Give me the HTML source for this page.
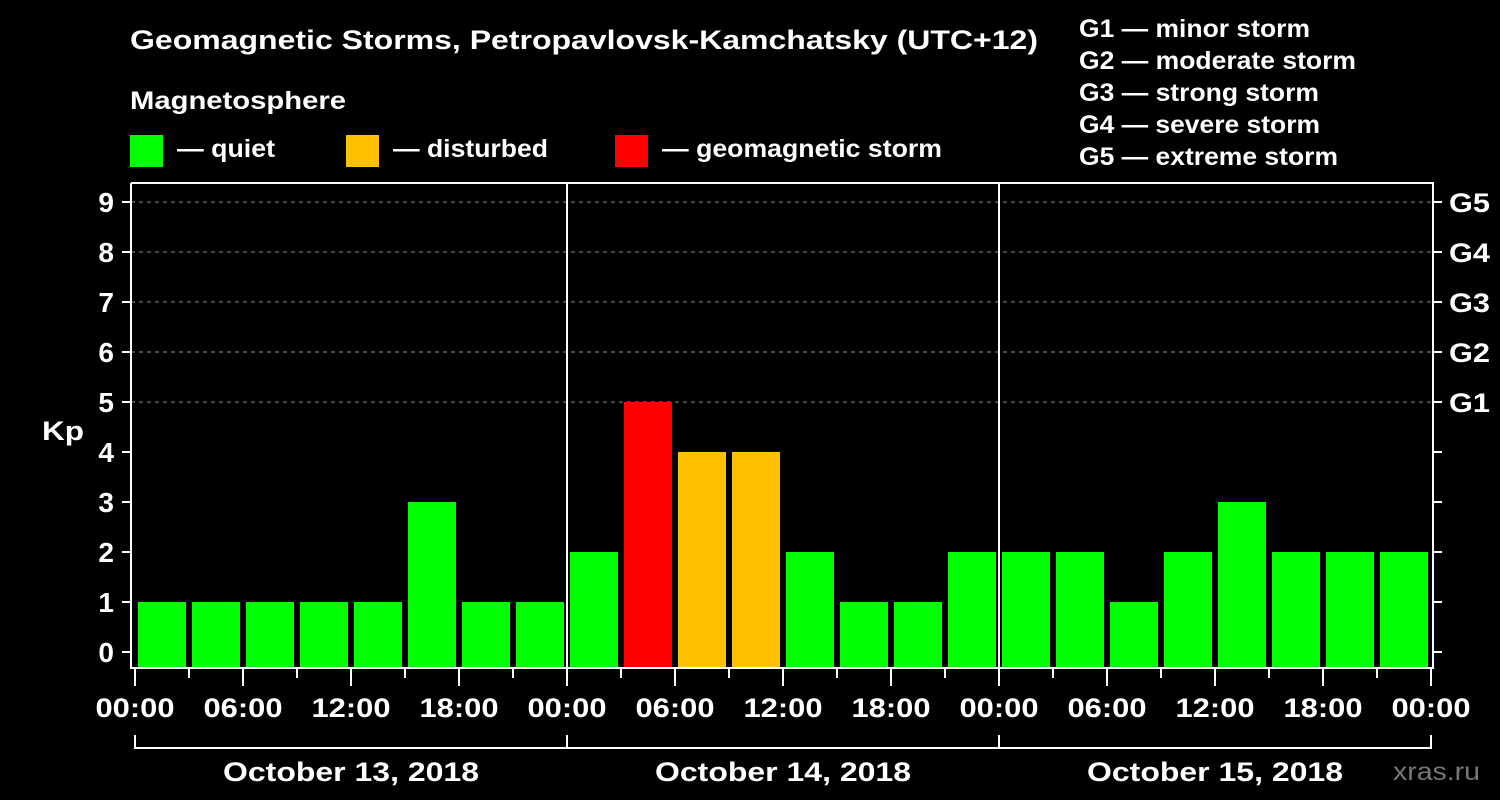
<!DOCTYPE html>
<html><head><meta charset="utf-8"><style>
body{margin:0;background:#000;}
svg{display:block;font-family:"Liberation Sans",sans-serif;font-weight:bold;}
</style></head><body>
<svg id="c" width="1500" height="800">
<rect width="1500" height="800" fill="#000"/>
<text x="130" y="49" fill="#fff" font-size="27" textLength="908" lengthAdjust="spacingAndGlyphs">Geomagnetic Storms, Petropavlovsk-Kamchatsky (UTC+12)</text>
<text x="130" y="109" fill="#fff" font-size="25" textLength="216" lengthAdjust="spacingAndGlyphs">Magnetosphere</text>
<g><rect x="130" y="135" width="33" height="32" fill="#00ff00"/><text x="177" y="157" fill="#fff" font-size="25" textLength="98" lengthAdjust="spacingAndGlyphs">— quiet</text></g>
<g><rect x="346" y="135" width="33" height="32" fill="#ffc000"/><text x="393" y="157" fill="#fff" font-size="25" textLength="155" lengthAdjust="spacingAndGlyphs">— disturbed</text></g>
<g><rect x="615" y="135" width="33" height="32" fill="#ff0000"/><text x="662" y="157" fill="#fff" font-size="25" textLength="280" lengthAdjust="spacingAndGlyphs">— geomagnetic storm</text></g>
<g fill="#fff" font-size="25">
<text x="1079" y="37" textLength="231" lengthAdjust="spacingAndGlyphs">G1 — minor storm</text>
<text x="1079" y="69" textLength="277" lengthAdjust="spacingAndGlyphs">G2 — moderate storm</text>
<text x="1079" y="101" textLength="240" lengthAdjust="spacingAndGlyphs">G3 — strong storm</text>
<text x="1079" y="133" textLength="241" lengthAdjust="spacingAndGlyphs">G4 — severe storm</text>
<text x="1079" y="165" textLength="259" lengthAdjust="spacingAndGlyphs">G5 — extreme storm</text>
</g>
<text x="42" y="440" fill="#fff" font-size="27" textLength="42" lengthAdjust="spacingAndGlyphs">Kp</text>
<text x="1393" y="780" fill="#777" font-size="25" font-weight="normal" textLength="87" lengthAdjust="spacingAndGlyphs">xras.ru</text>
<g id="grid"></g><g id="bars"></g><g id="axes"></g>
</svg>
<script>
const kpValues=[1,1,1,1,1,3,1,1, 2,5,4,4,2,1,1,2, 2,2,1,2,3,2,2,2];
const dayLabels=["October 13, 2018","October 14, 2018","October 15, 2018"];
const hourLabels=["00:00","06:00","12:00","18:00"];
const yTicks=[0,1,2,3,4,5,6,7,8,9];
const gLabels=["G1","G2","G3","G4","G5"];
const NS="http://www.w3.org/2000/svg";
const X0=135,SLOT=54,Y0=652,UNIT=50,BOTTOM=668,TOP=183,LEFT=131,RIGHT=1433;
const xs=i=>X0+SLOT*i; const ys=v=>Y0-UNIT*v;
function mk(t,a,p){const e=document.createElementNS(NS,t);for(const k in a)e.setAttribute(k,a[k]);p.appendChild(e);return e;}
const grid=document.getElementById('grid'),bars=document.getElementById('bars'),axes=document.getElementById('axes');
yTicks.forEach(v=>{
 if(v>=5){const l=mk('line',{x1:LEFT,x2:RIGHT,y1:ys(v),y2:ys(v),stroke:'#888','stroke-dasharray':'4,4','stroke-width':1},grid);
 }
 const t=mk('line',{x1:122,x2:LEFT,y1:ys(v),y2:ys(v),stroke:'#fff','stroke-width':2},axes);
 
 const r=mk('line',{x1:RIGHT,x2:1442,y1:ys(v),y2:ys(v),stroke:'#fff','stroke-width':2},axes);
 
 const tx=mk('text',{x:114,y:ys(v)+10,fill:'#fff','font-size':28,'text-anchor':'end'},axes);tx.textContent=v;
 
});
gLabels.forEach((g,i)=>{const tx=mk('text',{x:1449,y:ys(5+i)+10,fill:'#fff','font-size':27,textLength:41,lengthAdjust:'spacingAndGlyphs'},axes);tx.textContent=g;
 });
kpValues.forEach((v,i)=>{
 const c=v>=5?'#ff0000':(v>=4?'#ffc000':'#00ff00');
 const b=mk('rect',{x:xs(i)+3,y:ys(v),width:48,height:BOTTOM-ys(v),fill:c},bars);
 
});
const frame=mk('path',{d:`M${LEFT} ${TOP}V${BOTTOM}H${RIGHT}V${TOP}H${LEFT}`,stroke:'#fff','stroke-width':2,fill:'none'},axes);

for(let d=1;d<3;d++){const l=mk('line',{x1:xs(8*d),x2:xs(8*d),y1:TOP,y2:BOTTOM,stroke:'#fff','stroke-width':2},axes);
 }
for(let i=0;i<=24;i++){
 const major=i%2===0;
 const t=mk('line',{x1:xs(i),x2:xs(i),y1:BOTTOM,y2:major?686:678,stroke:'#fff','stroke-width':2},axes);
 
 if(major){const tx=mk('text',{x:xs(i),y:717,fill:'#fff','font-size':27,'text-anchor':'middle',textLength:79,lengthAdjust:'spacingAndGlyphs'},axes);
 tx.textContent=i===24?hourLabels[0]:hourLabels[(i/2)%4];
 }
}
const br=mk('path',{d:`M${xs(0)} 735V748H${xs(24)}V735M${xs(8)} 735V748M${xs(16)} 735V748`,stroke:'#fff','stroke-width':2,fill:'none'},axes);

dayLabels.forEach((d,i)=>{const tx=mk('text',{x:xs(8*i+4),y:781,fill:'#fff','font-size':27,'text-anchor':'middle',textLength:256,lengthAdjust:'spacingAndGlyphs'},axes);tx.textContent=d;
 });
</script>
</body></html>
